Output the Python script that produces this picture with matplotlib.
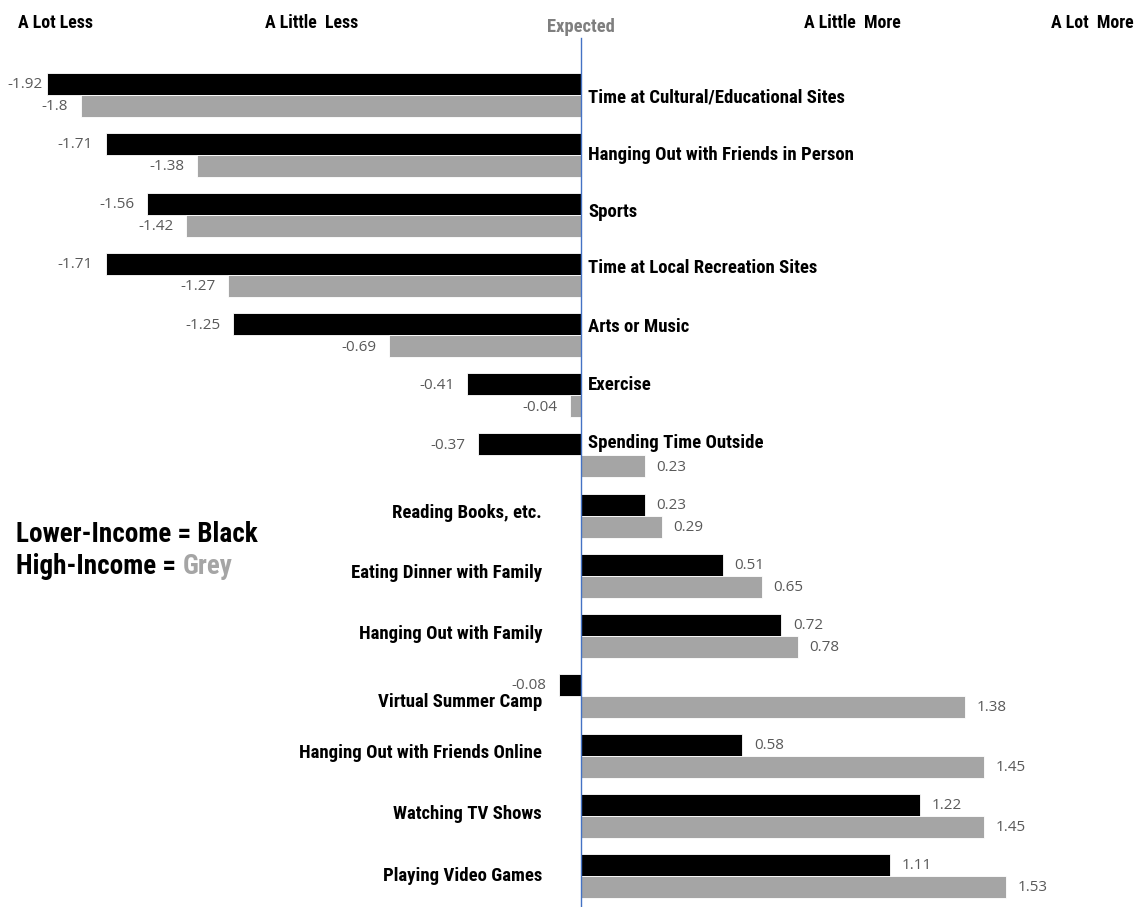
import matplotlib
matplotlib.use("Agg")
import matplotlib.pyplot as plt
import matplotlib.font_manager as fm
import numpy as np

# ── data ──────────────────────────────────────────
categories = [
    "Time at Cultural/Educational Sites",
    "Hanging Out with Friends in Person",
    "Sports",
    "Time at Local Recreation Sites",
    "Arts or Music",
    "Exercise",
    "Spending Time Outside",
    "Reading Books, etc.",
    "Eating Dinner with Family",
    "Hanging Out with Family",
    "Virtual Summer Camp",
    "Hanging Out with Friends Online",
    "Watching TV Shows",
    "Playing Video Games",
]
lower_income = [-1.92, -1.71, -1.56, -1.71, -1.25, -0.41, -0.37,
                0.23, 0.51, 0.72, -0.08, 0.58, 1.22, 1.11]
high_income = [-1.80, -1.38, -1.42, -1.27, -0.69, -0.04, 0.23,
               0.29, 0.65, 0.78, 1.38, 1.45, 1.45, 1.53]
# which side of the zero line the category label sits on
label_side = ["right"] * 7 + ["left"] * 7
scale_labels = ["A Lot Less", "A Little  Less", "Expected", "A Little  More", "A Lot  More"]
scale_pos = [-1.89, -0.97, 0.0, 0.975, 1.84]

BLACK = "#000000"
GREY = "#A5A5A5"
VAL_COLOR = "#595959"

# 找一个窄体字体，近似原图的压缩粗体
available = {f.name for f in fm.fontManager.ttflist}
cond = None
for name in ["Roboto Condensed", "Liberation Sans Narrow", "Open Sans Condensed",
             "DejaVu Sans Condensed", "Noto Sans Condensed"]:
    if name in available:
        cond = name
        break
if cond is None:
    cond = "Liberation Sans"
val_font = "Open Sans" if "Open Sans" in available else "DejaVu Sans"

W, H = 1138, 907
fig = plt.figure(figsize=(W / 100, H / 100), dpi=100)
ax = fig.add_axes([0, 0, 1, 1])

# zero at x=581 px, 278 px per unit; rows every ~60 px starting y=95
x0_px, px_per_unit = 581, 278.0
ax.set_xlim(-x0_px / px_per_unit, (W - x0_px) / px_per_unit)
row0, pitch = 95.0, 60.08
ax.set_ylim((H - row0) / pitch, -row0 / pitch)
ax.axis("off")

n = len(categories)
y = np.arange(n)
h = 0.366

ax.barh(y - h / 2, lower_income, height=h, color=BLACK, edgecolor="white", linewidth=0.6)
ax.barh(y + h / 2, high_income, height=h, color=GREY, edgecolor="white", linewidth=0.6)

ax.axvline(0, ymin=0, ymax=1 - 38 / H, color="#4472C4", linewidth=1.0)

# value labels
val_texts = []
for ys, vals in ((y - h / 2, lower_income), (y + h / 2, high_income)):
    for yi, v in zip(ys, vals):
        t = ax.annotate(f"{v:g}", (v, yi), xytext=(-9 if v < 0 else 8.5, -0.5),
                        textcoords="offset points",
                        ha="right" if v < 0 else "left", va="center", fontsize=11,
                        color=VAL_COLOR, family=val_font)
        val_texts.append(t)

# category labels (vertical nudge in px)
label_dy = [3, 0, -3, -7, -8, -10, -12, -3, -3, -2, 6, -3, -2, 0]
for yi, cat, side, dy in zip(y, categories, label_side, label_dy):
    if side == "right":
        ax.annotate(cat, (0, yi), xytext=(5, -dy * 0.72), textcoords="offset points",
                    ha="left", va="center", fontsize=13.5, fontweight="bold", family=cond)
    else:
        ax.annotate(cat, (0, yi), xytext=(-28, -dy * 0.72), textcoords="offset points",
                    ha="right", va="center", fontsize=13.5, fontweight="bold", family=cond)

# scale labels at the top
for lab, xp in zip(scale_labels, scale_pos):
    is_exp = lab == "Expected"
    ax.text(xp, ((27 if is_exp else 23) - row0) / pitch, lab,
            ha="center", va="center", fontsize=13.3 if is_exp else 12.9,
            fontweight="bold", family=cond,
            color="#7F7F7F" if is_exp else BLACK)

# legend text
fig.text(16 / W, 1 - 534 / H, "Lower-Income = Black", ha="left", va="center",
         fontsize=19.5, fontweight="bold", family=cond)
t = fig.text(16 / W, 1 - 567 / H, "High-Income = ", ha="left", va="center",
             fontsize=19.5, fontweight="bold", family=cond)
fig.canvas.draw()
bb = t.get_window_extent()
fig.text(bb.x1 / W, 1 - 567 / H, "Grey", ha="left", va="center",
         fontsize=19.5, fontweight="bold", family=cond, color=GREY)

# keep value labels inside the left edge (the -1.92 label is squeezed in the original)
for vt in val_texts:
    e = vt.get_window_extent()
    if e.x0 < 7:
        ox, oy = vt.xyann
        vt.xyann = (ox + (7 - e.x0) * 0.72, oy)

fig.savefig("out.png", dpi=100)
